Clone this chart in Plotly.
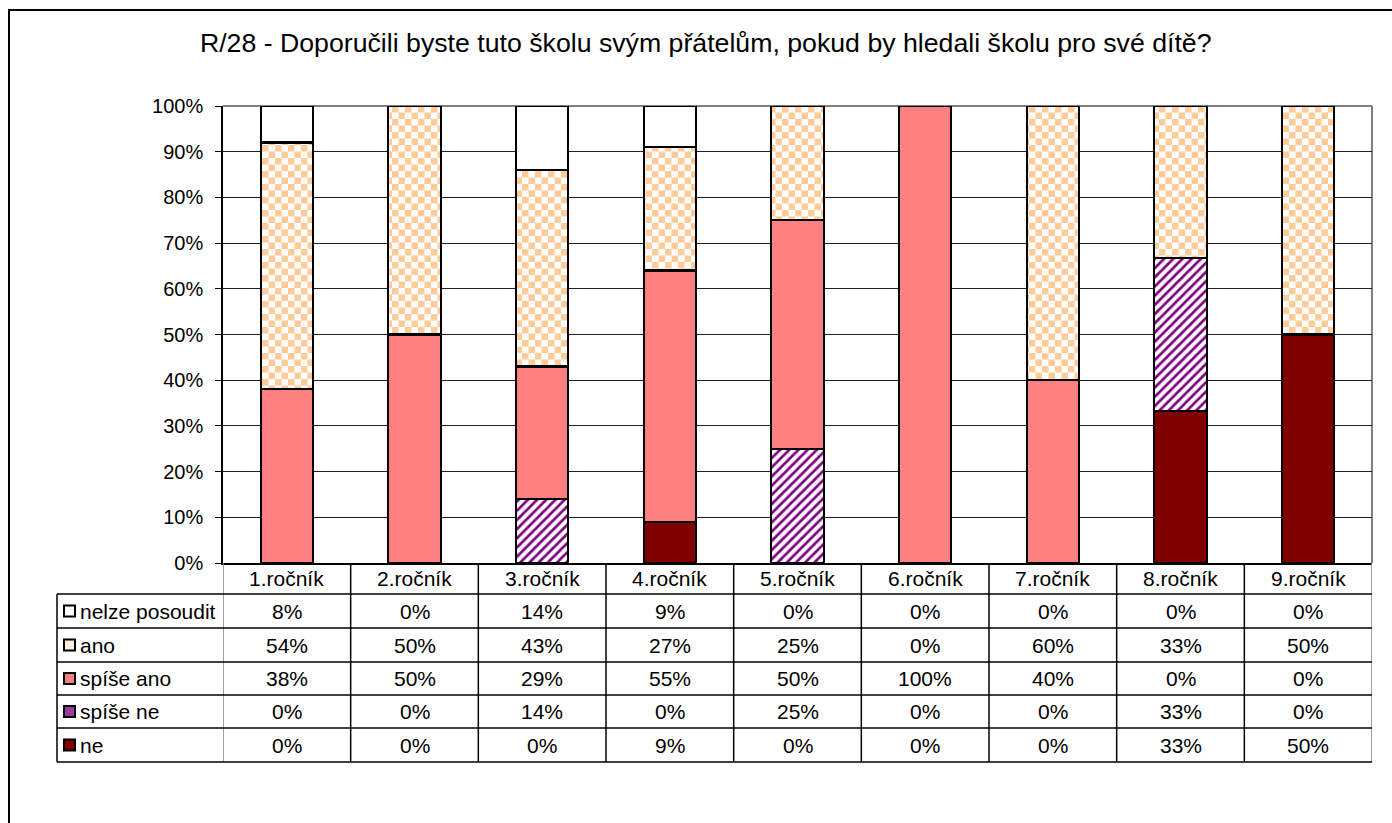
import plotly.graph_objects as go

# ---------------- data ----------------
categories = ["1.ročník", "2.ročník", "3.ročník", "4.ročník", "5.ročník",
              "6.ročník", "7.ročník", "8.ročník", "9.ročník"]
series_names = ["nelze posoudit", "ano", "spíše ano", "spíše ne", "ne"]
nelze_posoudit = [8, 0, 14, 9, 0, 0, 0, 0, 0]
ano = [54, 50, 43, 27, 25, 0, 60, 33, 50]
spise_ano = [38, 50, 29, 55, 50, 100, 40, 0, 0]
spise_ne = [0, 0, 14, 0, 25, 0, 0, 33, 0]
ne = [0, 0, 0, 9, 0, 0, 0, 33, 50]
y_tick_values = [0, 0.1, 0.2, 0.3, 0.4, 0.5, 0.6, 0.7, 0.8, 0.9, 1.0]
title_text = "R/28 - Doporučili byste tuto školu svým přátelům, pokud by hledali školu pro své dítě?"

table_rows = [nelze_posoudit, ano, spise_ano, spise_ne, ne]

# ---------------- geometry helpers (pixel -> paper) ----------------
W, H = 1392, 823
L, R, T, B = 223, 20, 106, 260
PW = W - L - R
PH = H - T - B


def fx(px):
    return (px - L) / PW


def fy(py):
    return (H - B - py) / PH


FONT = "Arial, 'Liberation Sans', sans-serif"
TABLE_FS = 21

fig = go.Figure()

# stacked bars, bottom to top
bar_styles = [
    ("ne", ne, dict(color="#800000")),
    ("spíše ne", spise_ne, dict(color="#FFFFFF",
                                pattern=dict(shape="/", fgcolor="#800080", bgcolor="#FFFFFF",
                                             size=6.5, solidity=0.42, fillmode="replace"))),
    ("spíše ano", spise_ano, dict(color="#FF8080")),
    ("ano", ano, dict(color="#FFFFFF",
                      pattern=dict(shape="+", fgcolor="#FFCC99", bgcolor="#FFFFFF",
                                   size=13, solidity=0.5, fillmode="replace"))),
    ("nelze posoudit", nelze_posoudit, dict(color="#FFFFFF")),
]
for name, vals, mk in bar_styles:
    mk = dict(mk)
    mk["line"] = dict(color="#000000", width=2.2)
    fig.add_trace(go.Bar(x=categories, y=vals, name=name, marker=mk,
                         showlegend=False, hoverinfo="skip"))

shapes = []
annotations = []

# outer chart border (top and left visible, continues past the window)
shapes.append(dict(type="rect", xref="paper", yref="paper",
                   x0=fx(9), x1=fx(W + 20), y0=fy(H + 20), y1=fy(10),
                   line=dict(color="#000000", width=2), layer="below"))
# plot area border (gray, top & right)
shapes.append(dict(type="line", xref="paper", yref="paper", x0=0, x1=1, y0=1, y1=1,
                   line=dict(color="#808080", width=2), layer="below"))
shapes.append(dict(type="line", xref="paper", yref="paper", x0=1, x1=1, y0=0, y1=1,
                   line=dict(color="#808080", width=2), layer="below"))

# ---------------- data table ----------------
header_top, header_bot = 563, 594
row_edges = [594, 628, 662, 695, 728, 762]
n = len(categories)

# category header labels
for c in categories:
    annotations.append(dict(x=c, xref="x", y=fy((header_top + header_bot) / 2), yref="paper",
                            text=c, showarrow=False, xanchor="center", yanchor="middle",
                            font=dict(family=FONT, size=TABLE_FS, color="#000000")))

# vertical lines (category boundaries)
for k in range(n + 1):
    xpos = k - 0.5
    col = "#808080" if k in (0, n) else "#000000"
    shapes.append(dict(type="line", xref="x", yref="paper", x0=xpos, x1=xpos,
                       y0=fy(header_top), y1=fy(row_edges[-1]),
                       line=dict(color=col, width=1.5)))
# legend column left border
shapes.append(dict(type="line", xref="paper", yref="paper", x0=fx(57), x1=fx(57),
                   y0=fy(row_edges[0]), y1=fy(row_edges[-1]),
                   line=dict(color="#000000", width=1.5)))
# horizontal lines
for ey in row_edges:
    shapes.append(dict(type="line", xref="paper", yref="paper", x0=fx(57), x1=1,
                       y0=fy(ey), y1=fy(ey), line=dict(color="#000000", width=1.5)))

key_fill = {
    "nelze posoudit": "#FFFFFF",
    "ano": "#FFF0E0",
    "spíše ano": "#FF8080",
    "spíše ne": "#9A3C9A",
    "ne": "#800000",
}
for r, (name, vals) in enumerate(zip(series_names, table_rows)):
    cy = (row_edges[r] + row_edges[r + 1]) / 2
    # legend key
    shapes.append(dict(type="rect", xref="paper", yref="paper",
                       x0=fx(64), x1=fx(75), y0=fy(cy + 5.5), y1=fy(cy - 5.5),
                       fillcolor=key_fill[name], line=dict(color="#000000", width=2)))
    annotations.append(dict(x=fx(78), xref="paper", y=fy(cy), yref="paper", text=name,
                            showarrow=False, xanchor="left", yanchor="middle",
                            font=dict(family=FONT, size=TABLE_FS, color="#000000")))
    for c, v in zip(categories, vals):
        annotations.append(dict(x=c, xref="x", y=fy(cy), yref="paper", text=f"{v}%",
                                showarrow=False, xanchor="center", yanchor="middle",
                                font=dict(family=FONT, size=TABLE_FS, color="#000000")))

fig.update_layout(
    width=W, height=H,
    margin=dict(l=L, r=R, t=T, b=B, pad=0),
    paper_bgcolor="#FFFFFF", plot_bgcolor="#FFFFFF",
    barmode="stack", barnorm="fraction", bargap=0.59,
    title=dict(text=title_text, x=0.507, xanchor="center", y=1 - 43 / H, yanchor="middle",
               font=dict(family=FONT, size=26.7, color="#000000")),
    xaxis=dict(type="category", range=[-0.5, n - 0.5], showticklabels=False, ticks="",
               showgrid=False, showline=True, linecolor="#000000", linewidth=1.5,
               zeroline=False, fixedrange=True),
    yaxis=dict(range=[0, 1], tickvals=y_tick_values, tickformat=".0%", ticks="outside",
               ticklen=6, tickcolor="#000000", tickwidth=1, showline=True,
               linecolor="#000000", linewidth=1.5, showgrid=True, gridcolor="#202020",
               gridwidth=1, zeroline=False, ticklabelstandoff=8,
               tickfont=dict(family=FONT, size=20, color="#000000"), fixedrange=True),
    shapes=shapes,
    annotations=annotations,
    hovermode=False,
)

post_js = """
document.body.style.margin = '0';
document.body.style.padding = '0';
var gd = document.getElementById('{plot_id}');
function fixChecker(){
  var pats = gd.querySelectorAll('pattern');
  pats.forEach(function(p){
    var path = p.querySelector('path');
    if(!path) return;
    var st = ((path.getAttribute('stroke')||'') + (path.getAttribute('style')||'') +
              (path.getAttribute('fill')||'')).replace(/\\s/g,'');
    if(st.indexOf('255,204,153') < 0) return;
    var w = 13, h = 6.5;
    p.setAttribute('width', w);
    p.setAttribute('height', w);
    p.setAttribute('patternUnits', 'userSpaceOnUse');
    p.removeAttribute('patternTransform');
    p.querySelectorAll('rect').forEach(function(rc){
      rc.setAttribute('width', w); rc.setAttribute('height', w);
      rc.setAttribute('x', 0); rc.setAttribute('y', 0);
    });
    path.setAttribute('d', 'M0,0H'+h+'V'+h+'H0Z M'+h+','+h+'H'+w+'V'+w+'H'+h+'Z');
    path.setAttribute('fill', 'rgb(255,204,153)');
    path.setAttribute('stroke', 'none');
    path.style.fill = 'rgb(255,204,153)';
    path.style.stroke = 'none';
    path.style.strokeWidth = '0';
    path.style.fillOpacity = '1';
  });
}
fixChecker();
setTimeout(fixChecker, 50);
setTimeout(fixChecker, 300);
if (gd.on) { gd.on('plotly_afterplot', fixChecker); }
"""

fig.write_html("out.html", post_script=post_js, config={"displayModeBar": False})
